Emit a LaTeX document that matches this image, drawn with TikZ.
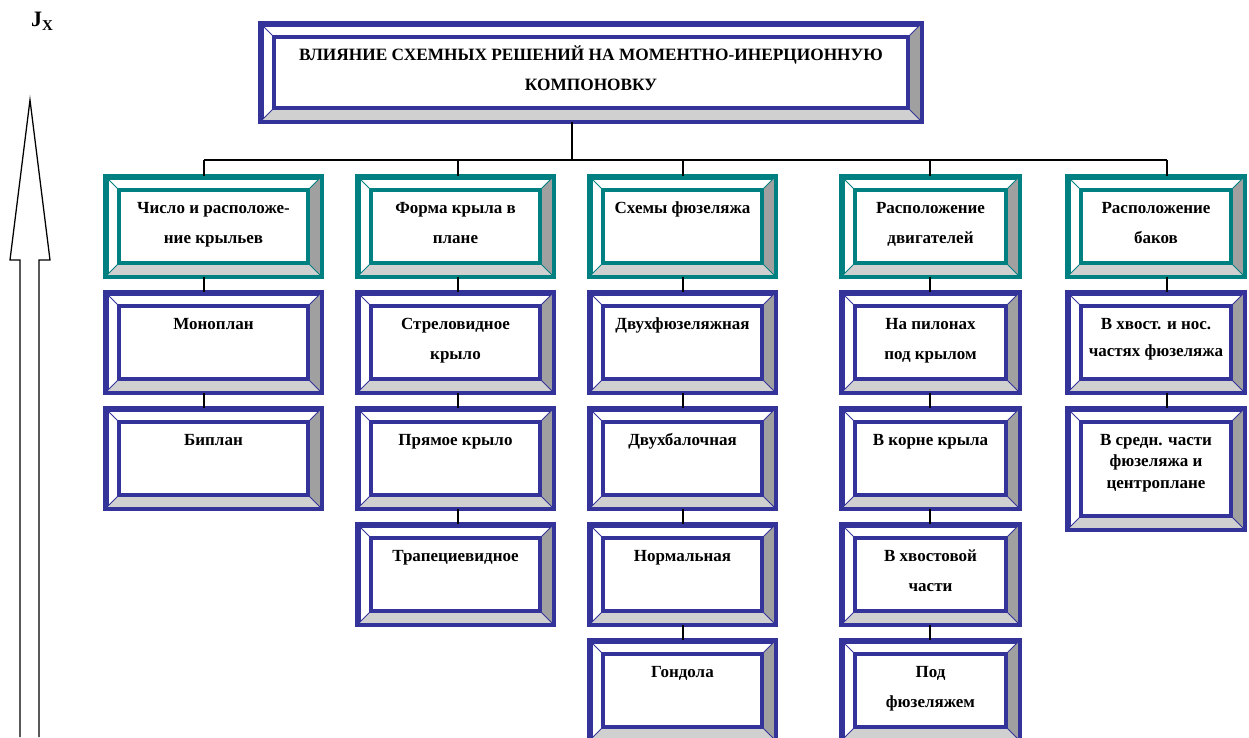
\documentclass[tikz,border=0pt]{standalone}
\usepackage{fontspec}
\setmainfont{Liberation Serif}
\definecolor{boxnavy}{RGB}{51,51,153}
\definecolor{boxteal}{RGB}{0,128,128}
\definecolor{bevelright}{RGB}{160,160,160}
\definecolor{bevelbottom}{RGB}{208,208,208}
\tikzset{
  frame/.style={draw=#1, fill=white, line width=3.5pt, rectangle, inner sep=0pt,
    minimum height=97.5pt, font=\bfseries},
  link/.style={line width=1.4pt},
}
% text set at the top of a box
\newcommand\btext[3][30pt]{\parbox[c][#2][t]{172pt}{\centering\fontsize{17}{#1}\selectfont\rule{0pt}{21pt}#3}}
% bevelled frame drawn over a node
\newcommand\bevel[2]{%
  \path (#1.north west) ++(14,14) coordinate (#1-i1);
  \path (#1.south east) ++(-14,-14) coordinate (#1-i2);
  \fill[bevelright] (#1.north east) -- (#1.south east) -- (#1-i2) -- (#1-i2 |- #1-i1) -- cycle;
  \fill[bevelbottom] (#1.south west) -- (#1.south east) -- (#1-i2) -- (#1-i1 |- #1-i2) -- cycle;
  \draw[#2, line width=1pt] (#1.north west) -- (#1-i1) (#1.north east) -- (#1-i2 |- #1-i1)
    (#1.south west) -- (#1-i1 |- #1-i2) (#1.south east) -- (#1-i2);
  \draw[#2, line width=3.5pt] (#1-i1) rectangle (#1-i2) (#1.north west) rectangle (#1.south east);
}

\begin{document}
\begin{tikzpicture}[x=1pt, y=-1pt]
  \path[fill=white, use as bounding box] (0,0) rectangle (1249,737);

  % axis arrow
  \node (jx) at (42,21) {\fontsize{22}{22}\selectfont\bfseries J\raisebox{-4pt}{\fontsize{15}{15}\selectfont X}};
  \draw[line width=1.3pt, line join=miter] (20,737) -- (20,260) -- (10,260) -- (30,100)
    -- (50,260) -- (39,260) -- (39,737);

  % title
  \node[frame=boxnavy, minimum width=658.5pt, minimum height=95.5pt] (title) at (591,72.5)
    {\parbox[c][67pt][t]{620pt}{\centering\fontsize{17.3}{30}\selectfont\rule{0pt}{21pt}ВЛИЯНИЕ СХЕМНЫХ РЕШЕНИЙ НА МОМЕНТНО-ИНЕРЦИОННУЮ\\КОМПОНОВКУ}};

  % column 1
  \node[frame=boxteal, minimum width=213.5pt] (wing) at (213.5,226.5) {\btext{69pt}{Число и расположе-\\ние крыльев}};
  \node[frame=boxnavy, minimum width=213.5pt] (mono) at (213.5,342.5) {\btext{69pt}{Моноплан}};
  \node[frame=boxnavy, minimum width=213.5pt] (bi) at (213.5,458.5) {\btext{69pt}{Биплан}};

  % column 2
  \node[frame=boxteal, minimum width=193.5pt] (plan) at (455.5,226.5) {\btext{69pt}{Форма крыла в\\плане}};
  \node[frame=boxnavy, minimum width=193.5pt] (swept) at (455.5,342.5) {\btext{69pt}{Стреловидное\\крыло}};
  \node[frame=boxnavy, minimum width=193.5pt] (straight) at (455.5,458.5) {\btext{69pt}{Прямое крыло}};
  \node[frame=boxnavy, minimum width=193.5pt] (trap) at (455.5,574.5) {\btext{69pt}{Трапециевидное}};

  % column 3
  \node[frame=boxteal, minimum width=183.5pt] (fus) at (682.5,226.5) {\btext{69pt}{Схемы фюзеляжа}};
  \node[frame=boxnavy, minimum width=183.5pt] (twin) at (682.5,342.5) {\btext{69pt}{Двухфюзеляжная}};
  \node[frame=boxnavy, minimum width=183.5pt] (boom) at (682.5,458.5) {\btext{69pt}{Двухбалочная}};
  \node[frame=boxnavy, minimum width=183.5pt] (normal) at (682.5,574.5) {\btext{69pt}{Нормальная}};
  \node[frame=boxnavy, minimum width=183.5pt] (gondola) at (682.5,690.5) {\btext{69pt}{Гондола}};

  % column 4
  \node[frame=boxteal, minimum width=175.5pt] (eng) at (930.5,226.5) {\btext{69pt}{Расположение\\двигателей}};
  \node[frame=boxnavy, minimum width=175.5pt] (pylon) at (930.5,342.5) {\btext{69pt}{На пилонах\\под крылом}};
  \node[frame=boxnavy, minimum width=175.5pt] (root) at (930.5,458.5) {\btext{69pt}{В корне крыла}};
  \node[frame=boxnavy, minimum width=175.5pt] (tail) at (930.5,574.5) {\btext{69pt}{В хвостовой\\части}};
  \node[frame=boxnavy, minimum width=175.5pt] (under) at (930.5,690.5) {\btext{69pt}{Под\\фюзеляжем}};

  % column 5
  \node[frame=boxteal, minimum width=174.5pt] (tank) at (1156,226.5) {\btext{69pt}{Расположение\\баков}};
  \node[frame=boxnavy, minimum width=174.5pt] (tanktail) at (1156,342.5) {\btext[27pt]{69pt}{В хвост. и нос.\\частях фюзеляжа}};
  \node[frame=boxnavy, minimum width=174.5pt, minimum height=118.5pt] (tankmid) at (1156,469)
    {\btext[21.5pt]{90pt}{В средн. части\\фюзеляжа и\\центроплане}};

  \foreach \n/\c in {title/boxnavy, wing/boxteal, mono/boxnavy, bi/boxnavy,
    plan/boxteal, swept/boxnavy, straight/boxnavy, trap/boxnavy,
    fus/boxteal, twin/boxnavy, boom/boxnavy, normal/boxnavy, gondola/boxnavy,
    eng/boxteal, pylon/boxnavy, root/boxnavy, tail/boxnavy, under/boxnavy,
    tank/boxteal, tanktail/boxnavy, tankmid/boxnavy}
    {\bevel{\n}{\c}}

  % connectors
  \coordinate (bus) at (572,160);
  \foreach \x [count=\i] in {204,458,683,930,1167}
    \coordinate (c\i) at (\x,160);
  \draw[link] (title.south -| bus) -- (bus);
  \draw[link] (c1) -- (c5);
  \foreach \i/\h in {1/wing,2/plan,3/fus,4/eng,5/tank}
    \draw[link] (c\i) -- (\h.north -| c\i);
  \draw[link] (wing.south -| c1) -- (mono.north -| c1) (mono.south -| c1) -- (bi.north -| c1);
  \draw[link] (plan.south -| c2) -- (swept.north -| c2) (swept.south -| c2) -- (straight.north -| c2)
    (straight.south -| c2) -- (trap.north -| c2);
  \draw[link] (fus.south -| c3) -- (twin.north -| c3) (twin.south -| c3) -- (boom.north -| c3)
    (boom.south -| c3) -- (normal.north -| c3) (normal.south -| c3) -- (gondola.north -| c3);
  \draw[link] (eng.south -| c4) -- (pylon.north -| c4) (pylon.south -| c4) -- (root.north -| c4)
    (root.south -| c4) -- (tail.north -| c4) (tail.south -| c4) -- (under.north -| c4);
  \draw[link] (tank.south -| c5) -- (tanktail.north -| c5) (tanktail.south -| c5) -- (tankmid.north -| c5);
\end{tikzpicture}
\end{document}
